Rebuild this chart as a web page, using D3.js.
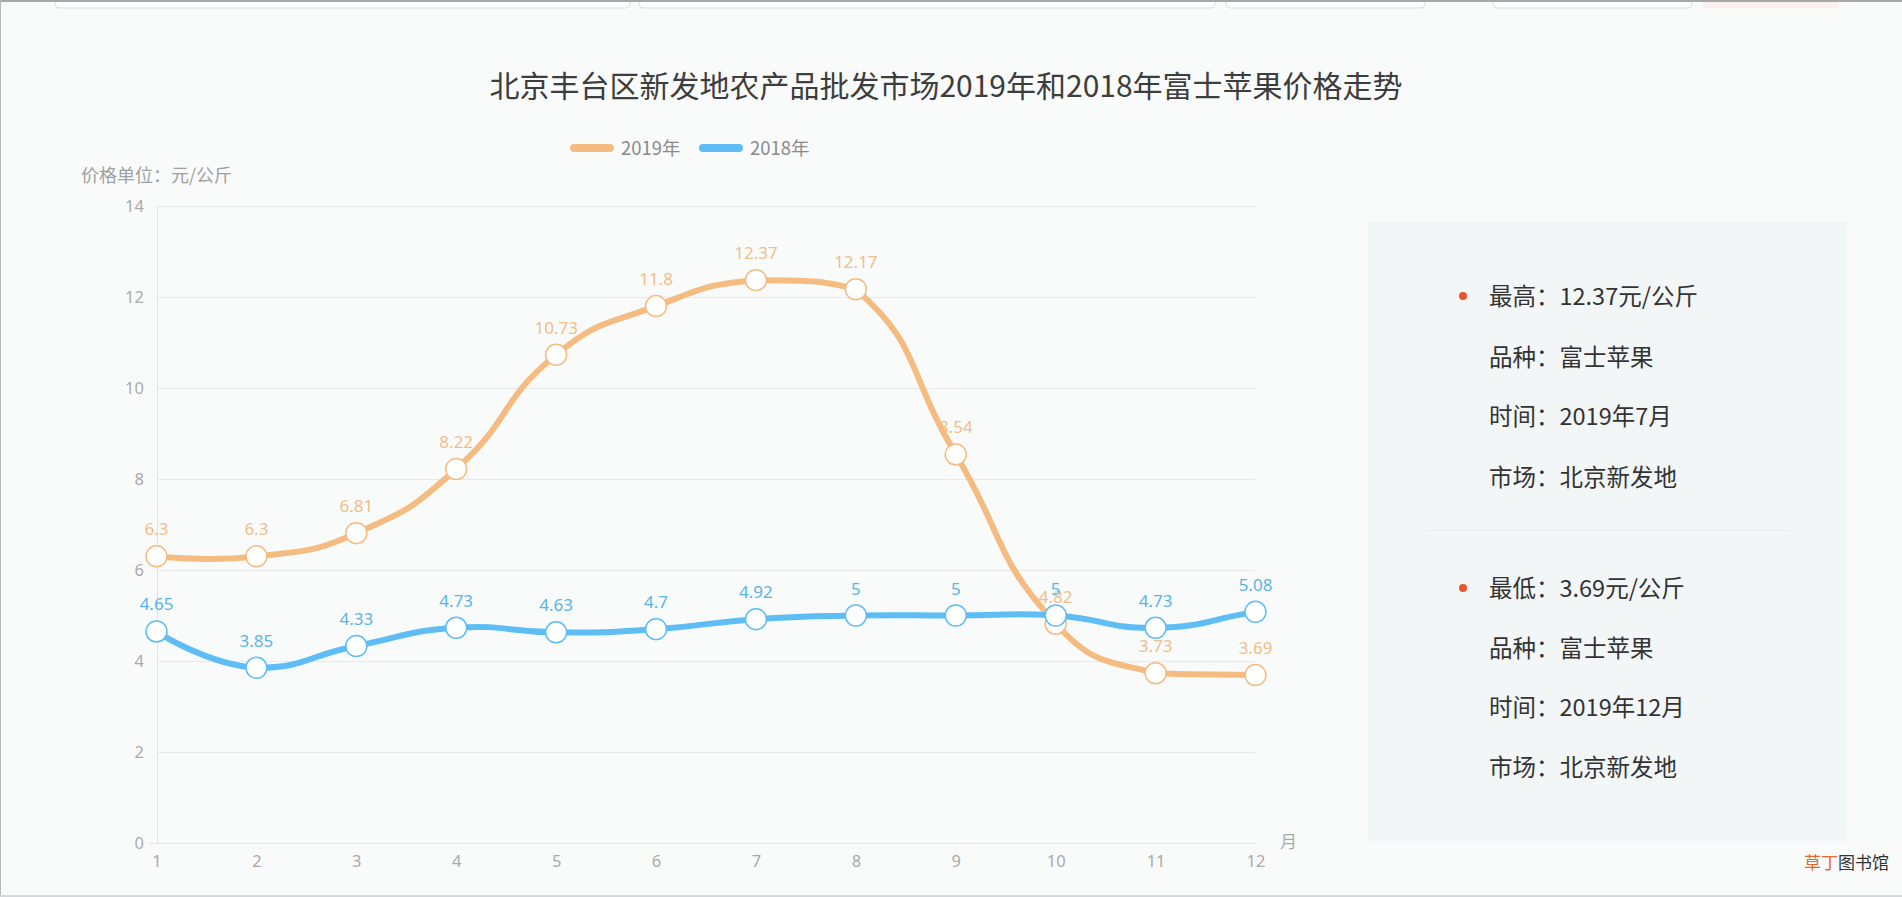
<!DOCTYPE html>
<html>
<head>
<meta charset="utf-8">
<script src="https://cdn.jsdelivr.net/npm/d3@7"></script>
<style>
  body { margin: 0; background: #f9fbfb; overflow: hidden; }
  svg { display: block; font-family: "Noto Sans CJK SC", "Noto Sans", sans-serif; }
</style>
</head>
<body>
<script>
// data
var months = [1, 2, 3, 4, 5, 6, 7, 8, 9, 10, 11, 12];
var price2019 = [6.3, 6.3, 6.81, 8.22, 10.73, 11.8, 12.37, 12.17, 8.54, 4.82, 3.73, 3.69];
var price2018 = [4.65, 3.85, 4.33, 4.73, 4.63, 4.7, 4.92, 5, 5, 5, 4.73, 5.08];
var yTicks = [0, 2, 4, 6, 8, 10, 12, 14];
var seriesNames = ["2019年", "2018年"];
var maxInfo = ["最高：12.37元/公斤", "品种：富士苹果", "时间：2019年7月", "市场：北京新发地"];
var minInfo = ["最低：3.69元/公斤", "品种：富士苹果", "时间：2019年12月", "市场：北京新发地"];

var W = 1902, H = 897;
var colors = ["#f5bc82", "#5dbdf4"];

var svg = d3.select("body").append("svg")
    .attr("width", W)
    .attr("height", H);

svg.append("rect").attr("width", W).attr("height", H).attr("fill", "#f9fbfb");

// page chrome at the top (tabs cut off)
var tabs = [[55, 575], [639, 576], [1226, 199], [1493, 199]];
tabs.forEach(function(t) {
    svg.append("rect")
        .attr("x", t[0]).attr("y", -10)
        .attr("width", t[1]).attr("height", 18)
        .attr("rx", 4)
        .attr("fill", "#fff")
        .attr("stroke", "#d9dcdd");
});
svg.append("rect").attr("x", 1703).attr("y", -10).attr("width", 135).attr("height", 18)
    .attr("fill", "#fbeff0");
svg.append("rect").attr("x", 0).attr("y", 0).attr("width", W).attr("height", 2).attr("fill", "#a5a7a8");
svg.append("rect").attr("x", 0).attr("y", 0).attr("width", 1).attr("height", H).attr("fill", "#b5b7b8");
svg.append("rect").attr("x", 0).attr("y", H - 2).attr("width", W).attr("height", 2).attr("fill", "#d5d7d8");

// title
svg.append("text")
    .attr("x", 946)
    .attr("y", 97)
    .attr("text-anchor", "middle")
    .style("font-size", "30px")
    .attr("fill", "#3d3d3d")
    .text("北京丰台区新发地农产品批发市场2019年和2018年富士苹果价格走势");

// legend
var legendX = [570, 699];
seriesNames.forEach(function(name, i) {
    svg.append("line")
        .attr("x1", legendX[i] + 4).attr("x2", legendX[i] + 40)
        .attr("y1", 148).attr("y2", 148)
        .attr("stroke", colors[i])
        .attr("stroke-width", 8)
        .attr("stroke-linecap", "round");
    svg.append("text")
        .attr("x", legendX[i] + 51)
        .attr("y", 155)
        .style("font-size", "18.5px")
        .attr("fill", "#8a8a8a")
        .text(name);
});

// scales
var x = d3.scaleLinear().domain([1, 12]).range([156.5, 1255.5]);
var y = d3.scaleLinear().domain([0, 14]).range([843, 206]);

// unit label
svg.append("text")
    .attr("x", 81).attr("y", 182)
    .style("font-size", "18px")
    .attr("fill", "#a0a0a0")
    .text("价格单位：元/公斤");

// grid lines
svg.append("g")
    .selectAll("line")
    .data(yTicks.slice(1))
    .join("line")
    .attr("x1", x(1)).attr("x2", x(12))
    .attr("y1", function(d) { return y(d) + 0.5; })
    .attr("y2", function(d) { return y(d) + 0.5; })
    .attr("stroke", "#e6eaeb");

// y axis
var yAxis = svg.append("g")
    .attr("transform", "translate(" + (x(1) + 0.5) + ",0.5)")
    .call(d3.axisLeft(y).tickValues(yTicks).tickSize(0).tickPadding(13));
yAxis.select(".domain").attr("stroke", "#e0e3e4");
yAxis.selectAll("text").style("font-size", "16.5px").attr("fill", "#aaa")
    .style("font-family", "'Noto Sans', sans-serif");

// x axis
var xAxis = svg.append("g")
    .attr("transform", "translate(0," + (y(0) + 0.5) + ")")
    .call(d3.axisBottom(x).tickValues(months).tickFormat(d3.format("d")).tickSize(0).tickPadding(12));
xAxis.select(".domain").attr("stroke", "#e0e3e4").attr("d", "M" + (x(1) - 8) + ",0H" + x(12));
xAxis.selectAll("text").style("font-size", "16.5px").attr("fill", "#aaa")
    .style("font-family", "'Noto Sans', sans-serif");

svg.append("text")
    .attr("x", 1280).attr("y", 848)
    .style("font-size", "17px")
    .attr("fill", "#aaa")
    .text("月");

// smoothed path like echarts (smooth = 0.5)
function smoothPath(vals) {
    var pts = vals.map(function(v, i) { return [x(months[i]), y(v)]; });
    var minX = d3.min(pts, function(p) { return p[0]; }), maxX = d3.max(pts, function(p) { return p[0]; });
    var minY = d3.min(pts, function(p) { return p[1]; }), maxY = d3.max(pts, function(p) { return p[1]; });
    function clamp(c) {
        return [Math.max(minX, Math.min(maxX, c[0])), Math.max(minY, Math.min(maxY, c[1]))];
    }
    var p = d3.path();
    p.moveTo(pts[0][0], pts[0][1]);
    var cp0 = pts[0].slice();
    for (var i = 1; i < pts.length; i++) {
        var cur = pts[i], prev = pts[i - 1];
        var next = i < pts.length - 1 ? pts[i + 1] : cur;
        var vx = (next[0] - prev[0]) * 0.5, vy = (next[1] - prev[1]) * 0.5;
        var lp = Math.hypot(cur[0] - prev[0], cur[1] - prev[1]);
        var ln = Math.hypot(next[0] - cur[0], next[1] - cur[1]);
        var r = ln / (ln + lp);
        var cp1 = clamp([cur[0] - vx * (1 - r), cur[1] - vy * (1 - r)]);
        p.bezierCurveTo(cp0[0], cp0[1], cp1[0], cp1[1], cur[0], cur[1]);
        cp0 = clamp([cur[0] + vx * r, cur[1] + vy * r]);
    }
    return p.toString();
}

var series = [price2019, price2018];

// labels
series.forEach(function(vals, s) {
    svg.append("g")
        .selectAll("text")
        .data(vals)
        .join("text")
        .attr("x", function(d, i) { return x(months[i]); })
        .attr("y", function(d) { return y(d) - 21; })
        .attr("text-anchor", "middle")
        .style("font-size", "17px")
        .style("font-family", "'Noto Sans', sans-serif")
        .attr("fill", s === 0 ? "#f2bd88" : "#5ab4e6")
        .text(function(d) { return d; });
});

series.forEach(function(vals, s) {
    svg.append("path")
        .attr("d", smoothPath(vals))
        .attr("fill", "none")
        .attr("stroke", colors[s])
        .attr("stroke-width", 6)
        .attr("stroke-linejoin", "round");
});

series.forEach(function(vals, s) {
    svg.append("g")
        .selectAll("circle")
        .data(vals)
        .join("circle")
        .attr("cx", function(d, i) { return x(months[i]); })
        .attr("cy", function(d) { return y(d); })
        .attr("r", 10.5)
        .attr("fill", "#fff")
        .attr("stroke", colors[s])
        .attr("stroke-width", 1.5);
});

// info panel
svg.append("rect")
    .attr("x", 1368).attr("y", 222)
    .attr("width", 479).attr("height", 619)
    .attr("fill", "#f3f6f7");
svg.append("line")
    .attr("x1", 1428).attr("x2", 1789)
    .attr("y1", 530.5).attr("y2", 530.5)
    .attr("stroke", "#e6e9ea");

var rowY = [[296, 357, 416, 477], [588, 648, 707, 767]];
[maxInfo, minInfo].forEach(function(lines, g) {
    svg.append("circle")
        .attr("cx", 1463).attr("cy", rowY[g][0])
        .attr("r", 4)
        .attr("fill", "#e8552b");
    lines.forEach(function(t, i) {
        svg.append("text")
            .attr("x", 1489)
            .attr("y", rowY[g][i] + 8.5)
            .style("font-size", "23.5px")
            .attr("fill", "#333")
            .text(t);
    });
});

// watermark
var wm = svg.append("text")
    .attr("x", 1804).attr("y", 869)
    .style("font-size", "17px");
wm.append("tspan").attr("fill", "#e8672c").text("草丁");
wm.append("tspan").attr("fill", "#333").text("图书馆");
</script>
</body>
</html>
